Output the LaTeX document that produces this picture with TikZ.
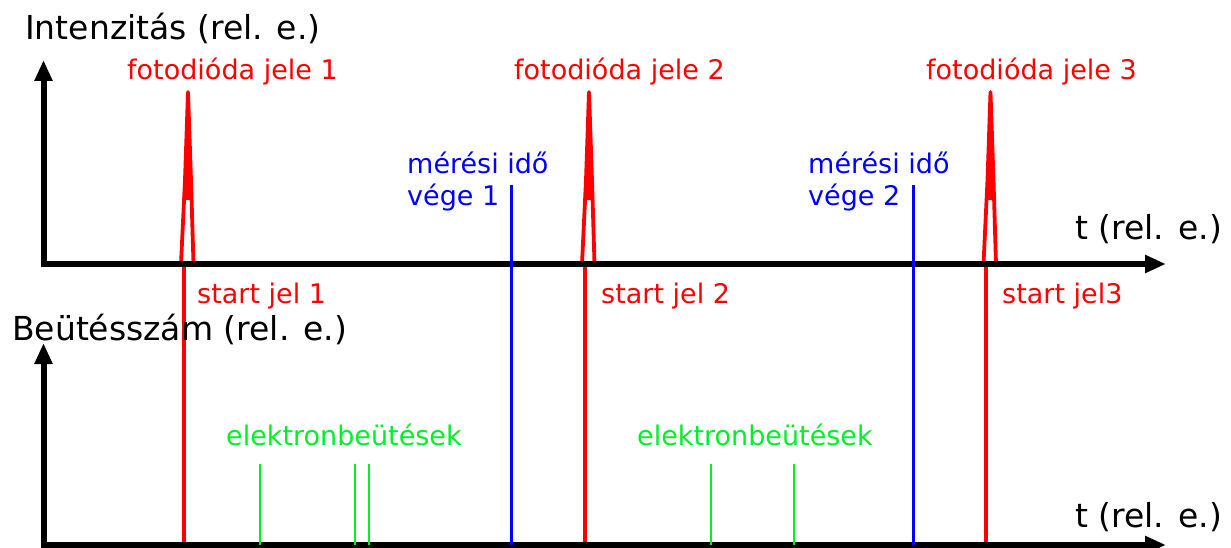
\documentclass[tikz,border=0pt]{standalone}
\usepackage{fontspec}
\setmainfont{DejaVu Sans}
\usepackage{xcolor}
\usetikzlibrary{arrows.meta}
\definecolor{hitgreen}{RGB}{0,240,40}

\tikzset{
  axis/.style={line width=6pt, {Triangle[length=21pt,width=17pt]}-{Triangle[length=21pt,width=17pt]}},
  axlabel/.style={anchor=base west, inner sep=0pt, font=\fontsize{33}{38}\selectfont},
  redlabel/.style={anchor=base west, inner sep=0pt, text=red, font=\fontsize{27}{32}\selectfont},
  bluelabel/.style={anchor=base west, inner sep=0pt, text=blue, align=left, font=\fontsize{27}{32}\selectfont},
  greenlabel/.style={anchor=base west, inner sep=0pt, text=hitgreen, font=\fontsize{27}{32}\selectfont},
  peak/.style={red, line width=3.8pt, line join=round},
  startline/.style={red, line width=4pt},
  endline/.style={blue, line width=3.5pt},
  hit/.style={hitgreen, line width=1.5pt}
}

\begin{document}
\begin{tikzpicture}[x=1pt, y=-1pt]
  \useasboundingbox (0,0) rectangle (1231,548);

  % photodiode peaks and start signals
  \foreach \n/\x in {1/183.5, 2/584.5, 3/986}{
    \coordinate (s\n) at (\x,264);
    \coordinate (sb\n) at (\x,545);
    \coordinate (top\n) at (\x+4.5,92);
    \fill[red] (\x+2,200) -- (top\n) -- (\x+7,200) -- cycle;
    \draw[peak] (\x-2.5,264) -- (\x+1.5,180) -- (top\n) -- (\x+7.5,180) -- (\x+10,264);
    \draw[startline] (s\n) -- (sb\n);
  }

  % axes
  \coordinate (o1) at (43.5,264);
  \coordinate (ytip1) at (43.5,60);
  \coordinate (xtip1) at (1166,264);
  \coordinate (o2) at (43.5,545);
  \coordinate (ytip2) at (43.5,343);
  \coordinate (xtip2) at (1166,545);
  \draw[axis] (ytip1) -- (o1) -- (xtip1);
  \draw[axis] (ytip2) -- (o2) -- (xtip2);

  \node[axlabel] (yl1) at (25,40) {Intenzitás (rel. e.)};
  \node[axlabel] (xl1) at (1075,240) {t (rel. e.)};
  \node[axlabel] (yl2) at (12,340) {Beütésszám (rel. e.)};
  \node[axlabel] (xl2) at (1075,527) {t (rel. e.)};

  \node[redlabel] (pd1) at (127,80) {fotodióda jele 1};
  \node[redlabel] (pd2) at (514,80) {fotodióda jele 2};
  \node[redlabel] (pd3) at (926,80) {fotodióda jele 3};
  \node[redlabel] (sj1) at (197,303) {start jel 1};
  \node[redlabel] (sj2) at (601,303) {start jel 2};
  \node[redlabel] (sj3) at (1002,303) {start jel3};

  % end of measurement time
  \foreach \n/\x in {1/511.5, 2/913.5}{
    \coordinate (e\n) at (\x,185);
    \coordinate (eb\n) at (\x,545);
    \draw[endline] (e\n) -- (eb\n);
  }
  \node[bluelabel] (me1) at (407,205) {mérési idő\\vége 1};
  \node[bluelabel] (me2) at (808,205) {mérési idő\\vége 2};

  % electron hits
  \foreach \x in {260, 355, 369, 711, 794}{
    \draw[hit] (\x,464) -- (\x,545);
  }
  \node[greenlabel] (eh1) at (226,445) {elektronbeütések};
  \node[greenlabel] (eh2) at (637,445) {elektronbeütések};
\end{tikzpicture}
\end{document}
